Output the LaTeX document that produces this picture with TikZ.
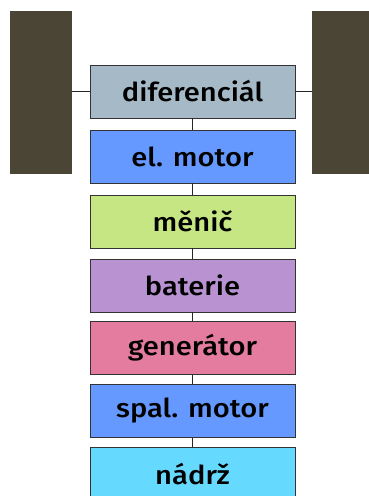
\documentclass[tikz,border=0pt]{standalone}
\usepackage{fontspec}
\setmainfont{Fira Sans}[BoldFont={Fira Sans Medium},BoldFeatures={FakeStretch=1.12}]
\begin{document}
\begin{tikzpicture}[x=1pt,y=-1pt,
  box/.style={draw=black!80,line width=0.9pt,minimum width=205pt,minimum height=53pt,inner sep=0pt,font=\fontsize{26}{28}\selectfont\bfseries},
  wheel/.style={fill=wheelc,draw=none,minimum width=62pt,minimum height=163pt,inner sep=0pt},
  link/.style={draw=black!85,line width=1.2pt}]
\definecolor{wheelc}{HTML}{4A4535}
\definecolor{cdiff}{HTML}{A6B9C6}
\definecolor{cmotor}{HTML}{6699FF}
\definecolor{cmenic}{HTML}{C6E583}
\definecolor{cbat}{HTML}{B892D1}
\definecolor{cgen}{HTML}{E47CA0}
\definecolor{ctank}{HTML}{66D9FF}
\useasboundingbox (0,0) rectangle (369,496);
\node[wheel] (wl) at (41,92) {};
\node[wheel] (wr) at (343,92) {};
\node[box,fill=cdiff] (diff) at (192.5,91.5) {diferenciál};
\node[box,fill=cmotor] (elm) at (192.5,156.5) {el. motor};
\node[box,fill=cmenic] (men) at (192.5,221.5) {měnič};
\node[box,fill=cbat] (bat) at (192.5,285.5) {baterie};
\node[box,fill=cgen] (gen) at (192.5,348) {generátor};
\node[box,fill=cmotor] (spm) at (192.5,411) {spal. motor};
\node[box,fill=ctank] (tank) at (192.5,474) {nádrž};
\draw[link] (wl.east |- diff.west) -- (diff.west);
\draw[link] (diff.east) -- (wr.west |- diff.east);
\draw[link] (diff) -- (elm);
\draw[link] (elm) -- (men);
\draw[link] (men) -- (bat);
\draw[link] (bat) -- (gen);
\draw[link] (gen) -- (spm);
\draw[link] (spm) -- (tank);
\end{tikzpicture}
\end{document}
